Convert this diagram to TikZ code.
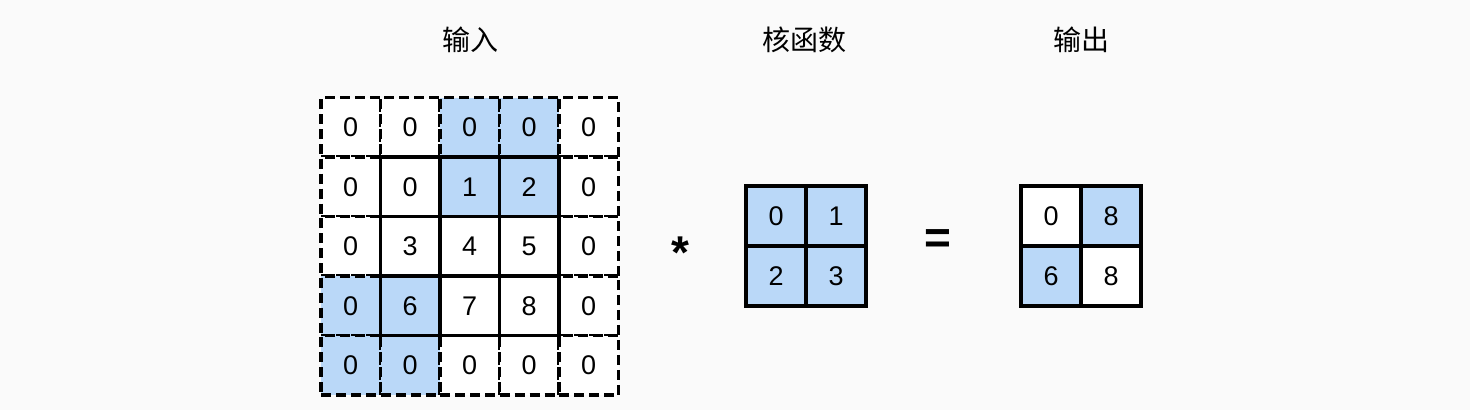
\documentclass[tikz,border=0pt]{standalone}
\usepackage{fontspec}
\setmainfont{Liberation Sans}
\newfontfamily\cjk{Noto Sans CJK SC}
\definecolor{bg}{HTML}{FAFAFA}
\definecolor{cellblue}{RGB}{186,216,248}
\begin{document}
\begin{tikzpicture}[x=1pt,y=-1pt,
  cellbase/.style={minimum size=59.5pt, inner sep=0pt, outer sep=0pt, fill=white, font=\fontsize{27}{32}\selectfont},
  dcell/.style={cellbase, draw=black, line width=3.2pt, dash pattern=on 10pt off 5pt},
  scell/.style={cellbase, draw=black, line width=3.6pt},
  kcell/.style={cellbase, minimum size=60pt, draw=black, line width=3.6pt},
  blue/.style={fill=cellblue},
  title/.style={font=\cjk\fontsize{28}{32}\selectfont, inner sep=0pt},
  op/.style={inner sep=0pt, font=\bfseries\fontsize{46}{50}\selectfont}
]
\fill[bg] (0,0) rectangle (1470,410);
\useasboundingbox (0,0) rectangle (1470,410);

% titles
\node[title] (tin) at (470,40) {输入};
\node[title] (tk) at (804,40) {核函数};
\node[title] (tout) at (1081,40) {输出};

% input: dashed padding cells
\foreach \i/\j/\b in {0/0/,0/1/,0/2/blue,0/3/blue,0/4/,
                      1/0/,1/4/,2/0/,2/4/,3/0/blue,3/4/,
                      4/0/blue,4/1/blue,4/2/,4/3/,4/4/}{
  \node[dcell,\b] (in-\i-\j) at ({321+59.5*(\j+0.5)},{97.5+59.5*(\i+0.5)}) {0};
}
% input: inner solid cells
\foreach \i/\j/\v/\b in {1/1/0/,1/2/1/blue,1/3/2/blue,
                         2/1/3/,2/2/4/,2/3/5/,
                         3/1/6/blue,3/2/7/,3/3/8/}{
  \node[scell,\b] (in-\i-\j) at ({321+59.5*(\j+0.5)},{97.5+59.5*(\i+0.5)}) {\v};
}

% operator *
\node[op] (star) at (680,253) {*};

% kernel
\foreach \i/\j/\v in {0/0/0,0/1/1,1/0/2,1/1/3}{
  \node[kcell,blue] (k-\i-\j) at ({746+60*(\j+0.5)},{186+60*(\i+0.5)}) {\v};
}

% operator =
\node[op] (eq) at (938,242) {=};

% output
\foreach \i/\j/\v/\b in {0/0/0/,0/1/8/blue,1/0/6/blue,1/1/8/}{
  \node[kcell,\b] (o-\i-\j) at ({1021+60*(\j+0.5)},{186+60*(\i+0.5)}) {\v};
}
\end{tikzpicture}
\end{document}
